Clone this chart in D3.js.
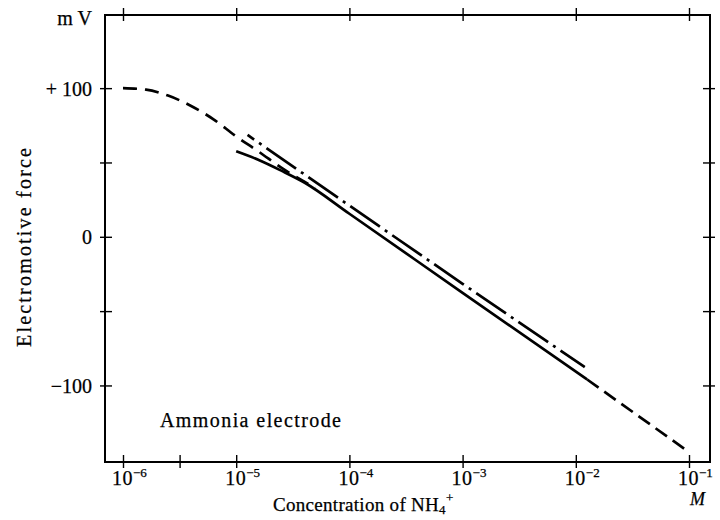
<!DOCTYPE html>
<html><head><meta charset="utf-8">
<script src="https://cdn.jsdelivr.net/npm/d3@7"></script>
<style>
body{margin:0;background:#fff}
svg{display:block}
text{font-family:"Liberation Serif","Times New Roman",serif;fill:#000;stroke:#000;stroke-width:0.25}
</style>
</head><body><svg id="c" width="720" height="520"></svg>
<script>
// ---- data ----
const xTickExponents = [-6, -5, -4, -3, -2, -1];
const xMinorTicks = [Math.pow(10, -5.5)];
const yTicks = [-100, -50, 0, 50, 100];
const yTickLabels = ["−100", "", "0", "", "+ 100"];

const dashedLowConc = [1e-6, 1.6e-6, 2.5e-6, 4e-6, 6.3e-6, 1e-5, 1.6e-5, 2.5e-5, 4e-5, 5e-5];
const dashedLowEmf  = [100, 99, 95, 88, 79, 67.5, 57, 46.5, 37, 33];
const solidConc = [1e-5, 1.6e-5, 2.5e-5, 4e-5, 1e-4, 1e-3, 1.26e-2];
const solidEmf  = [57.5, 51.5, 44.5, 36.5, 15.5, -37.7, -96];
const dashedHighConc = [1.26e-2, 1e-1];
const dashedHighEmf  = [-96, -144.8];
const dashDotConc = [1.26e-5, 1e-4, 1e-3, 1.2e-2];
const dashDotEmf  = [68.5, 21, -31.6, -87.6];

// ---- layout ----
const svg = d3.select("#c");
const L = 105, R = 710, T = 15, B = 462;
const x = d3.scaleLog().domain([Math.pow(10, -6.159), Math.pow(10, -0.8145)]).range([L, R]);
const y = d3.scaleLinear().domain([-151.5, 149.2]).range([B, T]);

const xTickVals = xTickExponents.map(e => Math.pow(10, e));

// frame
svg.append("rect").attr("x", L).attr("y", T).attr("width", R - L).attr("height", B - T)
  .attr("fill", "none").attr("stroke", "#000").attr("stroke-width", 2);

function styleAxis(g, a1, a2, attr1, attr2) {
  g.select(".domain").remove();
  g.selectAll(".tick line").attr(attr1, a1).attr(attr2, a2)
    .attr("stroke", "#000").attr("stroke-width", 1.4);
}
svg.append("g").attr("transform", `translate(0,${B})`)
  .call(d3.axisBottom(x).tickValues(xTickVals.concat(xMinorTicks)).tickFormat(""))
  .call(g => styleAxis(g, -7, 6, "y1", "y2"));
svg.append("g").attr("transform", `translate(0,${T})`)
  .call(d3.axisTop(x).tickValues(xTickVals).tickFormat(""))
  .call(g => styleAxis(g, -7, 6, "y1", "y2"));
svg.append("g").attr("transform", `translate(${L},0)`)
  .call(d3.axisLeft(y).tickValues(yTicks).tickFormat(""))
  .call(g => styleAxis(g, -5, 7, "x1", "x2"));
svg.append("g").attr("transform", `translate(${R},0)`)
  .call(d3.axisRight(y).tickValues(yTicks).tickFormat(""))
  .call(g => styleAxis(g, -7, 5, "x1", "x2"));

// x tick labels
xTickExponents.forEach(e => {
  const t = svg.append("text").attr("x", x(Math.pow(10, e)) - 11).attr("y", 485)
    .attr("font-size", 20);
  t.append("tspan").attr("letter-spacing", 0.5).text("10");
  t.append("tspan").attr("font-size", 13).attr("dy", -8).text("−" + (-e));
});
// y tick labels
yTicks.forEach((v, i) => {
  if (!yTickLabels[i]) return;
  svg.append("text").attr("x", 92).attr("y", y(v) + 7.5).attr("text-anchor", "end")
    .attr("font-size", 20).text(yTickLabels[i]);
});
svg.append("text").attr("x", 92).attr("y", 25).attr("text-anchor", "end")
  .attr("font-size", 20).text("m V");

// axis titles
svg.append("text").attr("transform", "translate(31,247.5) rotate(-90)")
  .attr("text-anchor", "middle").attr("font-size", 20)
  .attr("textLength", 199).attr("lengthAdjust", "spacing").text("Electromotive force");
const xl = svg.append("text").attr("x", 273).attr("y", 511).attr("font-size", 19)
  .attr("letter-spacing", 0.3);
xl.append("tspan").text("Concentration of  NH");
xl.append("tspan").attr("font-size", 13).attr("dy", 3).text("4");
xl.append("tspan").attr("font-size", 13).attr("dy", -12).text("+");
svg.append("text").attr("x", 690).attr("y", 505).attr("font-size", 18)
  .attr("font-style", "italic").text("M");

svg.append("text").attr("x", 160).attr("y", 427).attr("font-size", 20)
  .attr("textLength", 181).attr("lengthAdjust", "spacing").text("Ammonia electrode");

// curves
function draw(cs, vs, dash, offset, curve) {
  const pts = cs.map((c, i) => [x(c), y(vs[i])]);
  svg.append("path").attr("d", d3.line().curve(curve)(pts))
    .attr("fill", "none").attr("stroke", "#000").attr("stroke-width", 2.7)
    .attr("stroke-dasharray", dash).attr("stroke-dashoffset", offset);
}
draw(dashedLowConc, dashedLowEmf, "14,8", 0, d3.curveMonotoneX);
draw(solidConc, solidEmf, null, 0, d3.curveMonotoneX);
draw(dashedHighConc, dashedHighEmf, "14,7", 0, d3.curveLinear);
draw(dashDotConc, dashDotEmf, "36,6,3,6", 28, d3.curveMonotoneX);
</script>
</body></html>
